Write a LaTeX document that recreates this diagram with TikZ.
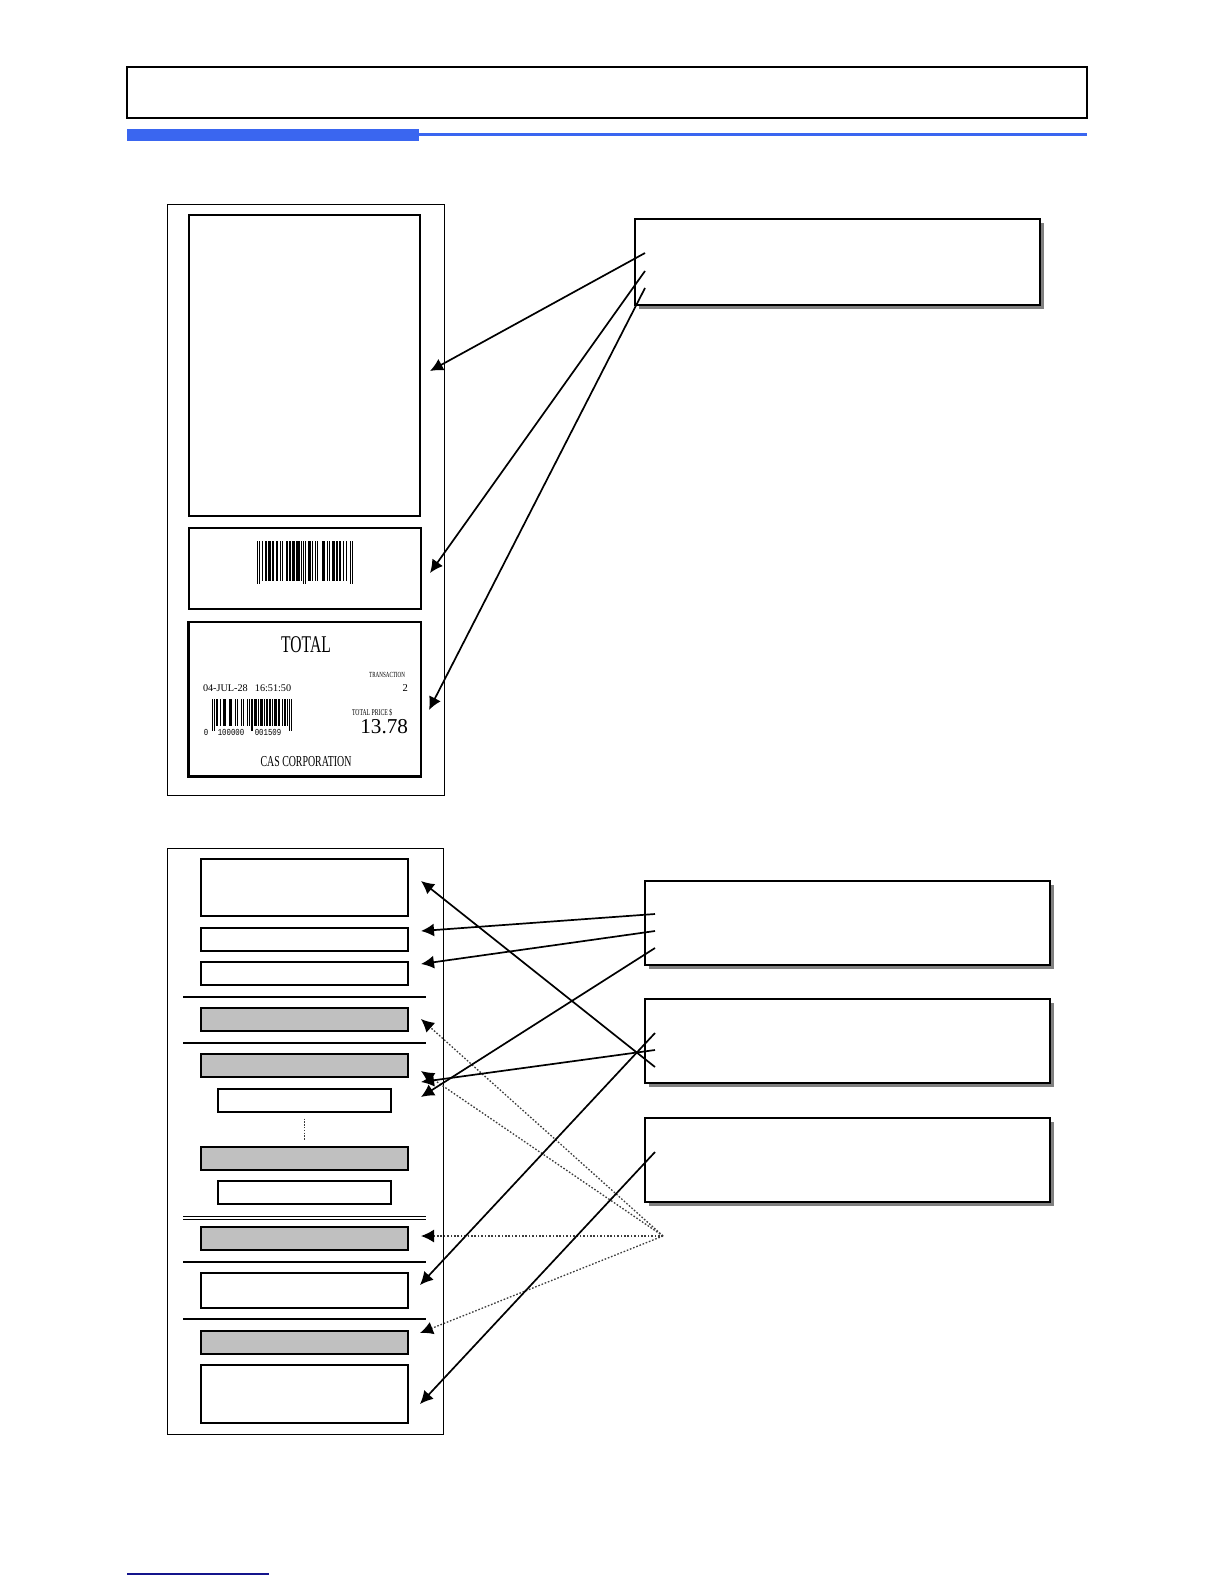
\documentclass[tikz,border=0pt]{standalone}
\usepackage{fontspec}
\newfontfamily\lblc[FakeStretch=0.65]{Liberation Serif}
\newfontfamily\lbln{Liberation Serif}
\newfontfamily\lblm[FakeStretch=0.8]{Liberation Mono}
\usetikzlibrary{arrows.meta,fit}
\definecolor{hdrblue}{RGB}{58,102,240}
\definecolor{navy}{RGB}{20,20,140}
\definecolor{boxgray}{RGB}{192,192,192}
\definecolor{shadowgray}{RGB}{128,128,128}
\definecolor{dotgray}{RGB}{60,60,60}
\tikzset{
 frame/.style={draw, line width=0.5pt, inner sep=0pt},
 pbox/.style={draw, line width=0.65pt, inner sep=0pt, fill=white},
 gbox/.style={pbox, fill=boxgray},
 cbox/.style={draw, line width=1pt, inner sep=0pt, fill=white},
 sepline/.style={line width=0.6pt},
 conn/.style={line width=0.85pt, -{Latex[length=6.5pt,width=6.5pt]}},
 dconn/.style={line width=0.65pt, dotgray, dash pattern=on 0.8pt off 0.9pt, -{Latex[length=6.5pt,width=6.5pt,color=black]}},
 txt/.style={inner sep=0pt, outer sep=0pt},
}
\begin{document}
\begin{tikzpicture}[x=0.5pt,y=-0.5pt]
\useasboundingbox (0,0) rectangle (1224,1584);
\fill[white] (0,0) rectangle (1224,1584);

% header
\node[draw, line width=1pt, inner sep=0pt, fit={(127,67)(1087,118)}] (header) {};
\fill[hdrblue] (127,129) rectangle (419,141);
\fill[hdrblue] (419,133) rectangle (1087,136.5);

% ---------- top panel ----------
\node[frame, fit={(167,204)(444,795)}] (toppanel) {};
\node[pbox, fit={(189,215)(420,516)}] (upper) {};
\node[pbox, fit={(189,528)(421,609)}] (bcbox) {};
\node[pbox, fit={(189,622)(421,776)}] (totbox) {};
\draw[line width=0.9pt] (totbox.north west) -- (totbox.south west) -- (totbox.south east);

% big barcode
\foreach \s/\w in {5/1,8/2,11/3,15/2,19/2,23/1,25/1,29/2,32/2,35/3,39/4,44/1,
                   50/3,54/1,57/1,59/1,64/3,69/1,71/1,74/3,78/2,81/2,85/1,88/1}
  \fill (257+\s*1.01,541) rectangle ++(\w*1.01,40);
\foreach \s in {0,2,46,48,92,94}
  \fill (257+\s*1.01,541) rectangle ++(1.01,43);

% small barcode
\foreach \s/\w in {5/2,9/1,13/2,16/1,20/2,23/1,27/2,30/1,34/2,37/1,41/2,44/1,
                   50/3,55/1,57/3,62/1,64/2,68/2,71/1,74/3,78/3,83/1,85/3,89/1}
  \fill (212+\s*0.842,699) rectangle ++(\w*0.842,27);
\foreach \s in {0,2,46,48,92,94}
  \fill (212+\s*0.842,699) rectangle ++(0.842,32);

\node[txt, anchor=base] (ttotal) at (306,652) {\lblc\fontsize{12pt}{12pt}\selectfont TOTAL};
\node[txt, anchor=base east] (ttrans) at (405,677) {\lblc\fontsize{3.9pt}{4pt}\selectfont TRANSACTION};
\node[txt, anchor=base west] (tdate) at (203,691) {\lbln\fontsize{5.1pt}{6pt}\selectfont 04-JUL-28\hspace{0.7em}16:51:50};
\node[txt, anchor=base east] (ttwo) at (408,691) {\lbln\fontsize{5.3pt}{6pt}\selectfont 2};
\node[txt, anchor=base west] (tprice) at (352,715) {\lblc\fontsize{4.4pt}{5pt}\selectfont TOTAL PRICE \$};
\node[txt, anchor=base east] (tamount) at (408,733) {\lbln\fontsize{10.6pt}{11pt}\selectfont 13.78};
\node[txt, anchor=base] (bd0) at (206,735) {\lblm\fontsize{4.6pt}{5pt}\selectfont 0};
\node[txt, anchor=base] (bd1) at (231,735) {\lblm\fontsize{4.6pt}{5pt}\selectfont 100000};
\node[txt, anchor=base] (bd2) at (268,735) {\lblm\fontsize{4.6pt}{5pt}\selectfont 001509};
\node[txt, anchor=base] (tcas) at (306,766) {\lblc\fontsize{7.6pt}{8pt}\selectfont CAS CORPORATION};

% top right box
\fill[shadowgray] (639,223) rectangle (1044,309);
\node[cbox, fit={(635,219)(1040,305)}] (topinfo) {};
\coordinate (s1) at (645,253);
\coordinate (s2) at (645,271);
\coordinate (s3) at (645,288);
\coordinate (t1) at (430,371);
\coordinate (t2) at (430,573);
\coordinate (t3) at (429,710);
\draw[conn] (s1) -- (t1);
\draw[conn] (s2) -- (t2);
\draw[conn] (s3) -- (t3);

% ---------- bottom panel ----------
\node[frame, fit={(167,848)(443,1434)}] (botpanel) {};
\node[pbox, fit={(201,859)(408,916)}] (bA) {};
\node[pbox, fit={(201,928)(408,951)}] (bB) {};
\node[pbox, fit={(201,962)(408,985)}] (bC) {};
\draw[sepline] (183,997) -- (426,997);
\node[gbox, fit={(201,1008)(408,1031)}] (bD) {};
\draw[sepline] (183,1043) -- (426,1043);
\node[gbox, fit={(201,1054)(408,1077)}] (bE) {};
\node[pbox, fit={(218,1089)(391,1112)}] (bF) {};
\draw[line width=0.6pt, dotgray, dash pattern=on 0.7pt off 0.7pt] (bF.south) ++(0,6) -- ++(0,21);
\node[gbox, fit={(201,1147)(408,1170)}] (bG) {};
\node[pbox, fit={(218,1181)(391,1204)}] (bH) {};
\draw[sepline] (183,1216.5) -- (426,1216.5);
\draw[sepline] (183,1219.5) -- (426,1219.5);
\node[gbox, fit={(201,1227)(408,1250)}] (bI) {};
\draw[sepline] (183,1262) -- (426,1262);
\node[pbox, fit={(201,1273)(408,1308)}] (bJ) {};
\draw[sepline] (183,1319) -- (426,1319);
\node[gbox, fit={(201,1331)(408,1354)}] (bK) {};
\node[pbox, fit={(201,1365)(408,1423)}] (bL) {};

% right boxes
\fill[shadowgray] (649,885) rectangle (1054,969);
\node[cbox, fit={(645,881)(1050,965)}] (r1) {};
\fill[shadowgray] (649,1003) rectangle (1054,1087);
\node[cbox, fit={(645,999)(1050,1083)}] (r2) {};
\fill[shadowgray] (649,1122) rectangle (1054,1206);
\node[cbox, fit={(645,1118)(1050,1202)}] (r3) {};

\coordinate (r1a) at (655,914);
\coordinate (r1b) at (655,931);
\coordinate (r1c) at (655,948);
\coordinate (r2a) at (655,1033);
\coordinate (r2b) at (655,1050);
\coordinate (r2c) at (655,1067);
\coordinate (r3a) at (655,1152);
\coordinate (dorg) at (663,1236);

\coordinate (tA) at (421,881);
\coordinate (tB) at (421,931);
\coordinate (tC) at (421,964);
\coordinate (tEF) at (421,1082);
\coordinate (tF) at (421,1097);
\coordinate (tJ) at (420,1285);
\coordinate (tL) at (420,1404);
\coordinate (tD) at (421,1019);
\coordinate (tE) at (421,1071);
\coordinate (tI) at (421,1236);
\coordinate (tK) at (420,1333);

\draw[dconn] (dorg) -- (tD);
\draw[dconn] (dorg) -- (tE);
\draw[dconn] (dorg) -- (tI);
\draw[dconn] (dorg) -- (tK);

\draw[conn] (r1a) -- (tB);
\draw[conn] (r1b) -- (tC);
\draw[conn] (r1c) -- (tF);
\draw[conn] (r2a) -- (tJ);
\draw[conn] (r2b) -- (tEF);
\draw[conn] (r2c) -- (tA);
\draw[conn] (r3a) -- (tL);

% footer line
\draw[navy, line width=0.8pt] (127,1574) -- (269,1574);
\end{tikzpicture}
\end{document}
